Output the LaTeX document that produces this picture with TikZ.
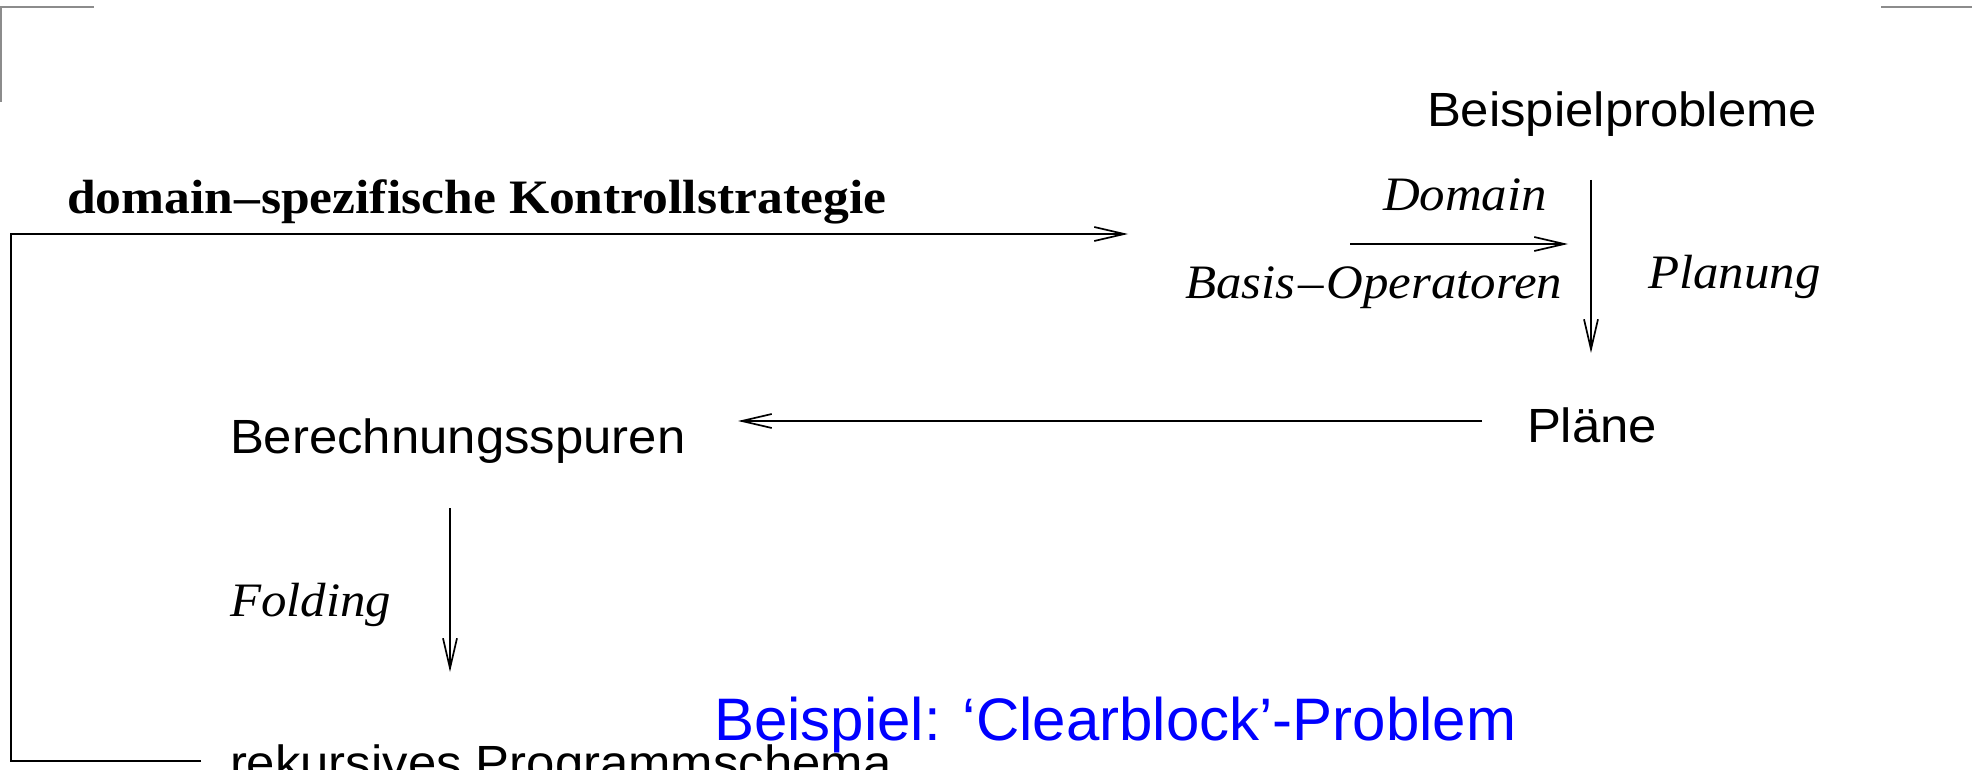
\documentclass[tikz,border=0pt]{standalone}
\usepackage{fontspec}
\usetikzlibrary{arrows.meta}
\newfontfamily\dsans[FakeStretch=1.06]{Liberation Sans}
\newfontfamily\dserif[FakeStretch=1.06]{Liberation Serif}
\newfontfamily\dserifb[FakeStretch=1.075]{Liberation Serif Bold}
\newfontfamily\bsans{Liberation Sans}
\definecolor{marks}{gray}{0.55}
\definecolor{titleblue}{rgb}{0,0,1}
\begin{document}
\begin{tikzpicture}[x=0.5pt,y=-0.5pt,
  lbl/.style={anchor=base west, inner sep=0pt, outer sep=0pt},
  sanslbl/.style={lbl, font=\dsans\fontsize{24}{28}\selectfont},
  itlbl/.style={lbl, font=\dserif\itshape\fontsize{24}{28}\selectfont},
  boldlbl/.style={lbl, font=\dserifb\fontsize{24}{28}\selectfont},
  titlelbl/.style={lbl, font=\bsans\fontsize{30}{36}\selectfont, text=titleblue},
  arr/.style={draw, line width=0.85pt, line join=miter, -{Straight Barb[length=15pt,width=7pt]}},
  markline/.style={draw=marks, line width=1.2pt}]
\useasboundingbox (0,0) rectangle (1972,770);
% corner marks
\draw[markline] (0,7) -- (94,7);
\draw[markline] (1,7) -- (1,102);
\draw[markline] (1881,7) -- (1972,7);
% texts
\node[sanslbl] (beisp) at (1427,127) {Beispielprobleme};
\node[boldlbl] (strat) at (67,214) {domain\kern0.5pt–\kern0.5pt spezifische Kontrollstrategie};
\node[itlbl] (domain) at (1383,211) {Domain};
\node[itlbl] (basis) at (1185,299) {Basis\kern1.5pt–\kern1.5pt Operatoren};
\node[itlbl] (planung) at (1648,289) {Planung};
\node[sanslbl] (plaene) at (1527,443) {Pläne};
\node[sanslbl] (berech) at (230,453) {Berechnungsspuren};
\node[itlbl] (folding) at (230,616) {Folding};
\node[sanslbl] (rekurs) at (230,779) {rekursives Programmschema};
\node[titlelbl] (title) at (714,740) {Beispiel: ‘Clearblock’-Problem};
% connector end points
\coordinate (dA) at (1350,244); \coordinate (dB) at (1568,244);
\coordinate (pA) at (1591,180); \coordinate (pB) at (1591,353);
\coordinate (lA) at (1482,421); \coordinate (lB) at (738,421);
\coordinate (fA) at (450,508);  \coordinate (fB) at (450,672);
\coordinate (kA) at (201,761);  \coordinate (kC1) at (11,761);
\coordinate (kC2) at (11,234);  \coordinate (kB) at (1128,234);
% connectors
\draw[arr] (dA) -- (dB);
\draw[arr] (pA) -- (pB);
\draw[arr] (lA) -- (lB);
\draw[arr] (fA) -- (fB);
\draw[arr] (kA) -- (kC1) -- (kC2) -- (kB);
\end{tikzpicture}
\end{document}
